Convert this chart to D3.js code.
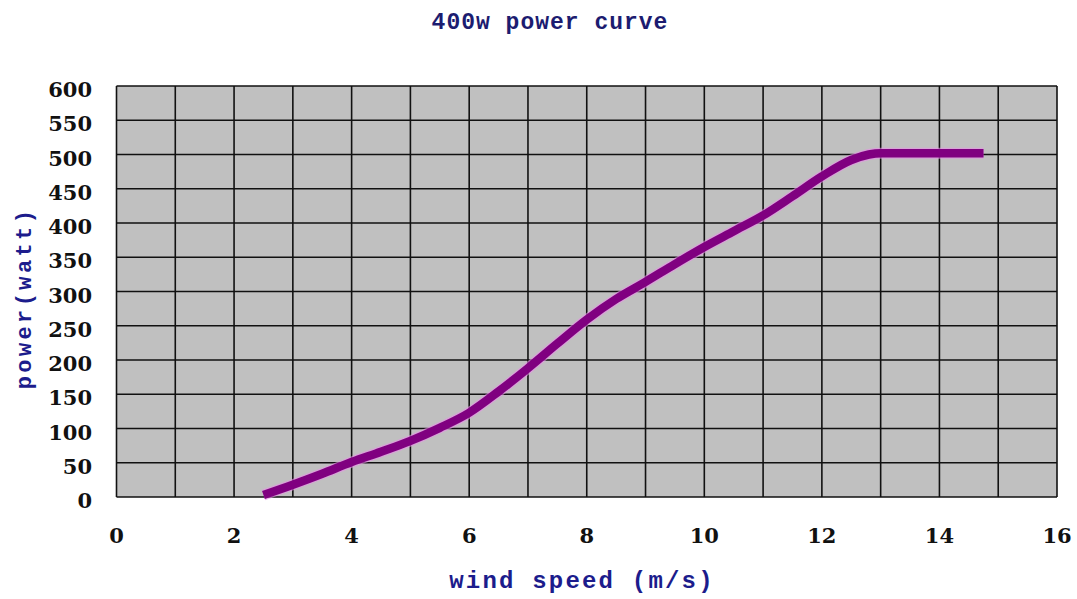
<!DOCTYPE html>
<html>
<head>
<meta charset="utf-8">
<script src="https://cdn.jsdelivr.net/npm/d3@7"></script>
<style>
    body { margin: 0; background: #fff; }
    svg { display: block; }
</style>
</head>
<body>
<svg id="chart" width="1077" height="599"></svg>
<script>
// values
var windSpeed = [2.5, 3, 3.5, 4, 4.5, 5, 5.5, 6, 6.5, 7, 7.5, 8, 8.5, 9, 9.5, 10, 10.5, 11, 11.5, 12, 12.5, 12.8, 13, 14, 14.75];
var power = [3, 18, 34, 51, 66, 82, 101, 123, 154, 188, 224, 259, 289, 314, 340, 365, 388, 411, 439, 468, 492, 500, 502, 502, 502];
var xTicks = [0, 2, 4, 6, 8, 10, 12, 14, 16];
var yTicks = [0, 50, 100, 150, 200, 250, 300, 350, 400, 450, 500, 550, 600];
var xGrid = d3.range(0, 17, 1);

var titleText = '400w power curve';
var xLabel = 'wind speed (m/s)';
var yLabel = 'power(watt)';

var margin = { left: 116.5, right: 20, top: 86, bottom: 102 };
var W = 1077, H = 599;
var svg = d3.select('#chart');

var x = d3.scaleLinear().domain([0, 16]).range([margin.left, W - margin.right]);
var y = d3.scaleLinear().domain([0, 600]).range([H - margin.bottom, margin.top]);

// gray plot area
svg.append('rect')
    .attr('x', x(0)).attr('y', y(600))
    .attr('width', x(16) - x(0)).attr('height', y(0) - y(600))
    .attr('fill', '#c0c0c0');

// grid
var grid = svg.append('g').attr('stroke', '#111').attr('stroke-width', 1.6);
grid.selectAll('line.v').data(xGrid).enter().append('line')
    .attr('class', 'v')
    .attr('x1', function (d) { return x(d); }).attr('x2', function (d) { return x(d); })
    .attr('y1', y(600)).attr('y2', y(0));
grid.selectAll('line.h').data(yTicks).enter().append('line')
    .attr('class', 'h')
    .attr('x1', x(0)).attr('x2', x(16))
    .attr('y1', function (d) { return y(d); }).attr('y2', function (d) { return y(d); });

// power curve
var line = d3.line()
    .x(function (d) { return x(d[0]); })
    .y(function (d) { return y(d[1]); })
    .curve(d3.curveMonotoneX);

svg.append('path')
    .datum(d3.zip(windSpeed, power))
    .attr('d', line)
    .attr('fill', 'none')
    .attr('stroke', '#e890e8')
    .attr('stroke-opacity', 0.6)
    .attr('stroke-width', 11);
svg.append('path')
    .datum(d3.zip(windSpeed, power))
    .attr('d', line)
    .attr('fill', 'none')
    .attr('stroke', '#800080')
    .attr('stroke-width', 8.5);

// tick labels
var tickFont = '"DejaVu Serif", serif';
svg.append('g').selectAll('text').data(xTicks).enter().append('text')
    .attr('x', function (d) { return x(d); })
    .attr('y', 543)
    .attr('text-anchor', 'middle')
    .attr('font-family', tickFont).attr('font-weight', 'bold').attr('font-size', 21)
    .attr('fill', '#111')
    .text(function (d) { return d; });

svg.append('g').selectAll('text').data(yTicks).enter().append('text')
    .attr('x', 92)
    .attr('y', function (d) { return y(d) + 11; })
    .attr('text-anchor', 'end')
    .attr('font-family', tickFont).attr('font-weight', 'bold').attr('font-size', 21)
    .attr('fill', '#111')
    .text(function (d) { return d; });

// title and axis labels
var monoFont = '"Liberation Mono", monospace';
svg.append('text')
    .attr('x', 550).attr('y', 29)
    .attr('text-anchor', 'middle')
    .attr('font-family', monoFont).attr('font-weight', 'bold').attr('font-size', 23)
    .attr('letter-spacing', 1)
    .attr('fill', '#1c1c70')
    .text(titleText);

svg.append('text')
    .attr('x', 582).attr('y', 588)
    .attr('text-anchor', 'middle')
    .attr('font-family', monoFont).attr('font-weight', 'bold').attr('font-size', 24)
    .attr('letter-spacing', 2.2)
    .attr('fill', '#1c1c8c')
    .text(xLabel);

svg.append('text')
    .attr('transform', 'translate(31,298) rotate(-90)')
    .attr('text-anchor', 'middle')
    .attr('font-family', monoFont).attr('font-weight', 'bold').attr('font-size', 22)
    .attr('letter-spacing', 3.4)
    .attr('fill', '#1c1c8c')
    .text(yLabel);
</script>
</body>
</html>
